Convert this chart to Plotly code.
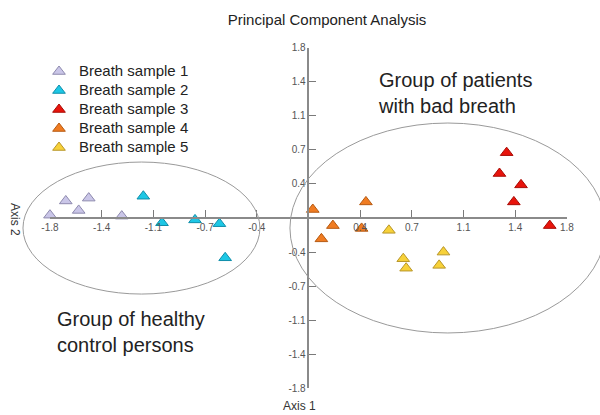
import plotly.graph_objects as go

# ---- data ----
series_names = ["Breath sample 1", "Breath sample 2", "Breath sample 3",
                "Breath sample 4", "Breath sample 5"]
s1_x = [-1.80, -1.69, -1.60, -1.53, -1.30]
s1_y = [0.03, 0.18, 0.08, 0.21, 0.02]
s2_x = [-1.15, -1.02, -0.79, -0.62, -0.58]
s2_y = [0.23, -0.05, -0.02, -0.06, -0.42]
s3_x = [1.38, 1.33, 1.48, 1.43, 1.68]
s3_y = [0.69, 0.47, 0.35, 0.17, -0.08]
s4_x = [0.03, 0.40, 0.17, 0.09, 0.37]
s4_y = [0.09, 0.17, -0.08, -0.22, -0.11]
s5_x = [0.56, 0.66, 0.68, 0.91, 0.94]
s5_y = [-0.13, -0.43, -0.53, -0.50, -0.36]

tick_vals = [-1.8, -1.44, -1.08, -0.72, -0.36, 0.36, 0.72, 1.08, 1.44, 1.8]
tick_text = ["-1.8", "-1.4", "-1.1", "-0.7", "-0.4", "0.4", "0.7", "1.1", "1.4", "1.8"]

title_text = "Principal Component Analysis"
x_title = "Axis 1"
y_title = "Axis 2"
group_right = "Group of patients<br>with bad breath"
group_left = "Group of healthy<br>control persons"

# ---- styles ----
fills = ["#CAC6E8", "#1DC7E5", "#E8140C", "#F07C22", "#F7D139"]
edges = ["#8E8AAE", "#0F8EAA", "#A80C06", "#B65A12", "#B8962A"]
FONT = "Liberation Sans, Arial, sans-serif"
W, H = 600, 415

# full-canvas axis ranges (same scale as visible axes)
X_FULL = [-2.148, 2.030]
Y_FULL = [-2.080, 2.302]
LIM = 1.8


def frac(v, r):
    return (v - r[0]) / (r[1] - r[0])


xdom = [frac(-LIM, X_FULL), frac(LIM, X_FULL)]
ydom = [frac(-LIM, Y_FULL), frac(LIM, Y_FULL)]
x_zero = frac(0, X_FULL)
y_zero = frac(0, Y_FULL)

fig = go.Figure()
xs = [s1_x, s2_x, s3_x, s4_x, s5_x]
ys = [s1_y, s2_y, s3_y, s4_y, s5_y]
for name, x, y, f, e in zip(series_names, xs, ys, fills, edges):
    fig.add_trace(go.Scatter(
        x=x, y=y, mode="markers", cliponaxis=False,
        name='<span style="font-size:15px">' + name + '</span>',
        marker=dict(symbol="triangle-up", size=11, color=f,
                    line=dict(color=e, width=1)),
        xaxis="x", yaxis="y"))

axis_common = dict(
    range=[-LIM, LIM], tickvals=tick_vals, ticktext=tick_text,
    ticks="inside", ticklen=7, tickwidth=1.2, tickcolor="#7a7a7a",
    showline=True, linecolor="#8a8a8a", linewidth=1.6,
    showgrid=False, zeroline=False, anchor="free", fixedrange=True,
    automargin=False,
    tickfont=dict(family=FONT, size=10, color="#555555"),
)

ell = dict(type="circle", xref="x2", yref="y2",
           line=dict(color="#9a9a9a", width=1), layer="below")

fig.update_layout(
    width=W, height=H,
    margin=dict(l=0, r=0, t=0, b=0, autoexpand=False),
    paper_bgcolor="white", plot_bgcolor="rgba(0,0,0,0)",
    font=dict(family=FONT, color="#222222"),
    xaxis=dict(domain=xdom, position=y_zero, **axis_common),
    yaxis=dict(domain=ydom, position=x_zero, **axis_common),
    xaxis2=dict(domain=[0, 1], range=X_FULL, anchor="y2", visible=False,
                automargin=False, fixedrange=True),
    yaxis2=dict(domain=[0, 1], range=Y_FULL, anchor="x2", visible=False,
                automargin=False, fixedrange=True),
    title=dict(text=title_text, x=327 / W, y=1 - 20 / H,
               xanchor="center", yanchor="middle",
               font=dict(family=FONT, size=15, color="#222222")),
    legend=dict(x=0.065, y=1 - 57 / H, xanchor="left", yanchor="top",
                font=dict(family=FONT, size=12, color="#222222"),
                bgcolor="rgba(255,255,255,0)", tracegroupgap=0),
    shapes=[
        dict(x0=-1.988, x1=-0.338, y0=-0.803, y1=0.591, **ell),
        dict(x0=-0.129, x1=2.070, y0=-1.214, y1=1.003, **ell),
    ],
    annotations=[
        dict(text=group_right, xref="paper", yref="paper",
             x=376 / W, y=1 - 67 / H, xanchor="left", yanchor="top",
             align="left", showarrow=False,
             font=dict(family=FONT, size=20, color="#222222")),
        dict(text=group_left, xref="paper", yref="paper",
             x=55 / W, y=1 - 306 / H, xanchor="left", yanchor="top",
             align="left", showarrow=False,
             font=dict(family=FONT, size=20, color="#222222")),
        dict(text=x_title, xref="paper", yref="paper",
             x=299 / W, y=1 - 406 / H, xanchor="center", yanchor="middle",
             showarrow=False, font=dict(family=FONT, size=12, color="#333333")),
        dict(text=y_title, xref="paper", yref="paper", textangle=90,
             x=15 / W, y=1 - 219 / H, xanchor="center", yanchor="middle",
             showarrow=False, font=dict(family=FONT, size=12, color="#333333")),
    ],
)

fig.write_html("out.html", config={"displayModeBar": False},
               post_script="document.body.style.margin='0';")
